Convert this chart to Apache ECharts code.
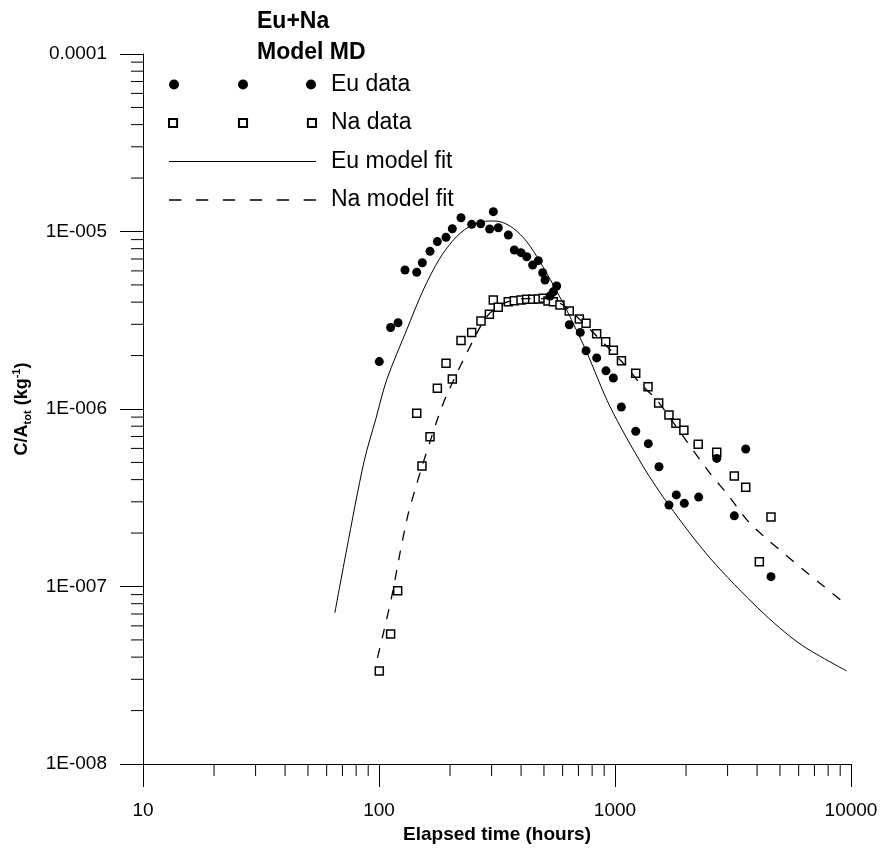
<!DOCTYPE html>
<html>
<head>
<meta charset="utf-8">
<script src="https://cdn.jsdelivr.net/npm/echarts@6/dist/echarts.min.js"></script>
<style>html,body{margin:0;padding:0;background:#fff}#c{width:884px;height:848px}</style>
</head>
<body>
<div id="c"></div>
<script>
// ---- data (elapsed time in hours, C/Atot in kg^-1) ----
const euDataT = [100.3,112,120.4,128.9,144.5,152.6,164.5,176.7,192.3,204.5,222.6,247,269.7,294.4,305.1,320.3,353.2,374.5,399.7,422.6,447.8,473.2,493.9,505.3,530.4,547.9,566.2,640.4,712.8,753.9,836.4,915.7,984,1064,1224,1384,1536,1693,1819,1967,2262,2698,3203,3580,4581];
const euDataV = [1.85e-6,2.88e-6,3.06e-6,6.07e-6,5.89e-6,6.67e-6,7.73e-6,8.77e-6,9.27e-6,1.037e-5,1.196e-5,1.097e-5,1.106e-5,1.033e-5,1.294e-5,1.05e-5,9.55e-6,7.87e-6,7.6e-6,7.21e-6,6.48e-6,6.85e-6,5.86e-6,5.33e-6,4.33e-6,4.58e-6,4.93e-6,2.985e-6,2.70e-6,2.13e-6,1.94e-6,1.64e-6,1.495e-6,1.026e-6,7.49e-7,6.38e-7,4.73e-7,2.88e-7,3.28e-7,2.94e-7,3.19e-7,5.27e-7,2.50e-7,5.95e-7,1.136e-7];

const naDataT = [100.3,112,120,144.5,152.1,164.5,176.7,192.3,204.5,222.6,247,270.5,293.6,305,320,353,374.5,399.7,422.6,447.8,473,496,520,548,584.6,640,706,754,836,913,984,1065,1224,1380,1531,1693,1812,1958,2252,2698,3203,3580,4089,4581];
const naDataV = [3.34e-8,5.40e-8,9.47e-8,9.46e-7,4.77e-7,6.98e-7,1.308e-6,1.809e-6,1.476e-6,2.43e-6,2.70e-6,3.13e-6,3.42e-6,4.11e-6,3.74e-6,4.02e-6,4.07e-6,4.11e-6,4.15e-6,4.15e-6,4.17e-6,4.20e-6,4.06e-6,4.02e-6,3.85e-6,3.57e-6,3.21e-6,3.04e-6,2.65e-6,2.39e-6,2.14e-6,1.87e-6,1.589e-6,1.336e-6,1.081e-6,9.25e-7,8.30e-7,7.59e-7,6.32e-7,5.70e-7,4.19e-7,3.62e-7,1.38e-7,2.46e-7];

const euFitT = [65,72.9,86.4,97.1,107.8,131,154,181,213,251,295,326,371,423,481,548,624,754,953,1318,1693,2527,4116,6080,9600];
const euFitV = [7.1e-8,1.61e-7,5.05e-7,8.86e-7,1.46e-6,2.79e-6,4.68e-6,7.06e-6,9.35e-6,1.098e-5,1.146e-5,1.136e-5,1.042e-5,8.76e-6,6.76e-6,4.99e-6,3.61e-6,2.13e-6,1.03e-6,4.73e-7,2.87e-7,1.447e-7,7.37e-8,4.75e-8,3.34e-8];

const naFitT = [98.5,104.3,113.2,122.7,133.1,142.1,151.7,164.5,178.4,193.6,251,286,326,371,423,514,585,666,1084,1276,1502,1948,2527,2974,3855,9500];
const naFitV = [3.96e-8,5.45e-8,8.76e-8,1.54e-7,2.58e-7,3.5e-7,4.69e-7,6.54e-7,9.05e-7,1.2e-6,2.45e-6,3.31e-6,3.85e-6,4.11e-6,4.19e-6,4.19e-6,3.94e-6,3.46e-6,1.81e-6,1.396e-6,1.124e-6,6.98e-7,4.34e-7,3.35e-7,2.17e-7,7.96e-8];

// ---- axis ticks / labels ----
const xTickLabels = ['10','100','1000','10000'];
const yTickLabels = ['1E-008','1E-007','1E-006','1E-005','0.0001'];
const xMinorTicks = [20,30,40,50,60,70,80,90,200,300,400,500,600,700,800,900,2000,3000,4000,5000,6000,7000,8000,9000];
const yMinorTicks = [2e-8,3e-8,4e-8,5e-8,6e-8,7e-8,8e-8,9e-8,2e-7,3e-7,4e-7,5e-7,6e-7,7e-7,8e-7,9e-7,2e-6,3e-6,4e-6,5e-6,6e-6,7e-6,8e-6,9e-6,2e-5,3e-5,4e-5,5e-5,6e-5,7e-5,8e-5,9e-5];

const FONT = '"Liberation Sans", Arial, sans-serif';
const zip = (a, b) => a.map((v, i) => [v, b[i]]);

const chart = echarts.init(document.getElementById('c'), null, {renderer: 'canvas'});
chart.setOption({
  animation: false,
  backgroundColor: '#fff',
  title: {
    text: 'Eu+Na\nModel MD',
    left: 257, top: 6, padding: 0,
    textStyle: {fontFamily: FONT, fontWeight: 'bold', fontSize: 23, lineHeight: 31, color: '#000'}
  },
  legend: {
    orient: 'vertical', left: 168, top: 73, padding: 0, itemGap: 15.5,
    itemWidth: 147, itemHeight: 10,
    textStyle: {fontFamily: FONT, fontSize: 23, color: '#000', padding: [0, 0, 0, 10]},
    data: [
      {name: 'Eu data', icon: 'path://M0,5a5,5 0 1,0 10,0a5,5 0 1,0 -10,0zM69,5a5,5 0 1,0 10,0a5,5 0 1,0 -10,0zM137,5a5,5 0 1,0 10,0a5,5 0 1,0 -10,0z'},
      {name: 'Na data', icon: 'path://M1,1h8v8h-8zM70,1h8v8h-8zM138,1h8v8h-8z'},
      {name: 'Eu model fit', icon: 'path://M0,0h147v1.1h-147z'},
      {name: 'Na model fit', icon: 'path://M0,0h11v1.2h-11zM24,0h11v1.2h-11zM48,0h11v1.2h-11zM72,0h11v1.2h-11zM96,0h11v1.2h-11zM120,0h11v1.2h-11z'}
    ]
  },
  grid: {left: 143, right: 33, top: 54, bottom: 84, containLabel: false, outerBoundsMode: 'none'},
  xAxis: {
    type: 'log', logBase: 10, min: 10, max: 10000,
    name: 'Elapsed time (hours)', nameLocation: 'middle', nameGap: 54,
    nameTextStyle: {fontFamily: FONT, fontWeight: 'bold', fontSize: 19, color: '#000'},
    axisLine: {show: true, lineStyle: {color: '#000', width: 1}},
    axisTick: {show: true, inside: false, length: 23, lineStyle: {color: '#000', width: 1}},
    axisLabel: {margin: 37, fontFamily: FONT, fontSize: 19, color: '#000',
      formatter: v => xTickLabels[Math.round(Math.log10(v)) - 1]},
    splitLine: {show: false}
  },
  yAxis: {
    type: 'log', logBase: 10, min: 1e-8, max: 1e-4,
    name: '{a|C/A}{sub|tot}{a| (kg}{sup|-1}{a|)}', nameLocation: 'middle', nameGap: 110,
    nameTextStyle: {fontFamily: FONT, fontWeight: 'bold', fontSize: 18, color: '#000',
      rich: {
        a: {fontFamily: FONT, fontWeight: 'bold', fontSize: 18, color: '#000', lineHeight: 22},
        sub: {fontFamily: FONT, fontWeight: 'bold', fontSize: 11, color: '#000', verticalAlign: 'bottom', lineHeight: 22, padding: [6, 0, 0, 0]},
        sup: {fontFamily: FONT, fontWeight: 'bold', fontSize: 11, color: '#000', verticalAlign: 'top', lineHeight: 22, padding: [0, 0, 6, 0]}
      }},
    axisLine: {show: true, lineStyle: {color: '#000', width: 1}},
    axisTick: {show: true, inside: false, length: 23, lineStyle: {color: '#000', width: 1}},
    axisLabel: {margin: 36, fontFamily: FONT, fontSize: 19, color: '#000',
      formatter: v => yTickLabels[Math.round(Math.log10(v)) + 8]},
    splitLine: {show: false}
  },
  series: [
    {
      name: 'xMinorTicks', type: 'custom', silent: true, z: 1,
      data: xMinorTicks.map(t => [t, 1e-8]),
      renderItem: (params, api) => {
        const p = api.coord([api.value(0), api.value(1)]);
        return {type: 'line', shape: {x1: p[0], y1: p[1], x2: p[0], y2: p[1] + 12}, style: {stroke: '#000', lineWidth: 1}};
      }
    },
    {
      name: 'yMinorTicks', type: 'custom', silent: true, z: 1,
      data: yMinorTicks.map(v => [10, v]),
      renderItem: (params, api) => {
        const p = api.coord([api.value(0), api.value(1)]);
        return {type: 'line', shape: {x1: p[0] - 12, y1: p[1], x2: p[0], y2: p[1]}, style: {stroke: '#000', lineWidth: 1}};
      }
    },
    {
      name: 'Na data', type: 'scatter', z: 2, symbol: 'rect', symbolSize: 8,
      itemStyle: {color: '#fff', borderColor: '#000', borderWidth: 1.5, opacity: 1},
      data: zip(naDataT, naDataV)
    },
    {
      name: 'Eu data', type: 'scatter', z: 3, symbol: 'circle', symbolSize: 9,
      itemStyle: {color: '#000', opacity: 1},
      data: zip(euDataT, euDataV)
    },
    {
      name: 'Eu model fit', type: 'line', z: 4, symbol: 'none', smooth: 0.3,
      lineStyle: {color: '#000', width: 1, type: 'solid'},
      itemStyle: {color: '#000'},
      data: zip(euFitT, euFitV)
    },
    {
      name: 'Na model fit', type: 'line', z: 4, symbol: 'none', smooth: 0.3,
      lineStyle: {color: '#000', width: 1.3, type: [10, 10]},
      itemStyle: {color: '#000'},
      data: zip(naFitT, naFitV)
    }
  ]
});
</script>
</body>
</html>
